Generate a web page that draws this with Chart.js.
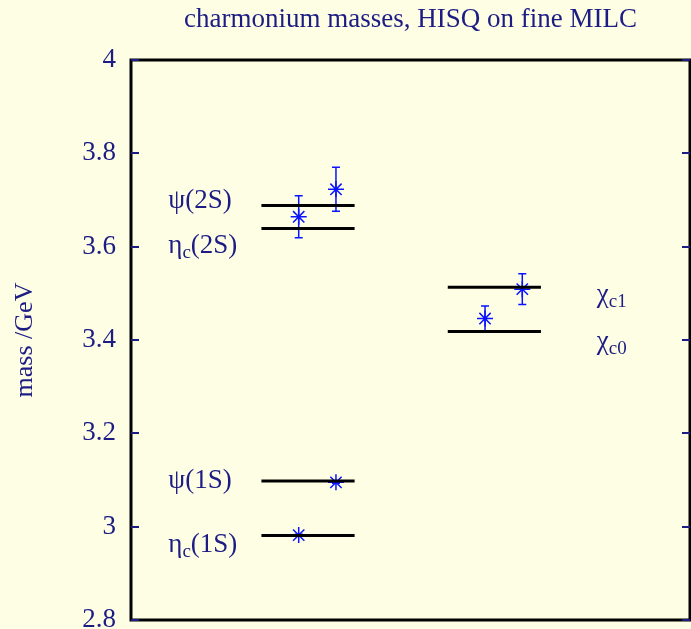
<!DOCTYPE html>
<html>
<head>
<meta charset="utf-8">
<script src="https://cdn.jsdelivr.net/npm/chart.js@4"></script>
<style>
  html, body { margin: 0; padding: 0; background: #fefee4; overflow: hidden; }
  canvas { display: block; }
</style>
</head>
<body>
<canvas id="grafico" width="691" height="629"></canvas>
<script>
// eje y
const yTicks = [2.8, 3.0, 3.2, 3.4, 3.6, 3.8, 4.0];
const yTickLabels = ["2.8", "3", "3.2", "3.4", "3.6", "3.8", "4"];

// niveles experimentales (lineas negras)
const levelMass = [3.688, 3.639, 3.098, 2.981, 3.513, 3.418];
const levelStart = [1.4, 1.4, 1.4, 1.4, 3.4, 3.4];
const levelEnd = [2.4, 2.4, 2.4, 2.4, 4.4, 4.4];

// resultados lattice (estrellas azules con error)
const pointX = [1.8, 2.2, 2.2, 1.8, 4.2, 3.8];
const pointMass = [3.664, 3.723, 3.095, 2.982, 3.509, 3.446];
const pointErr = [0.045, 0.047, 0.002, 0.002, 0.033, 0.027];

// etiquetas de los estados
const labelBase = ["ψ", "η", "ψ", "η", "χ", "χ"];
const labelSub = ["", "c", "", "c", "c1", "c0"];
const labelRest = ["(2S)", "(2S)", "(1S)", "(1S)", "", ""];
const labelX = [0.4, 0.4, 0.4, 0.4, 5.0, 5.0];
const labelY = [3.683, 3.586, 3.083, 2.946, 3.481, 3.381];

const navy = "#1c1c84";
const serif = "'Liberation Serif', 'DejaVu Serif', serif";

const datasets = levelMass.map((m, i) => ({
  type: "line",
  data: [{ x: levelStart[i], y: m }, { x: levelEnd[i], y: m }],
  borderColor: "#000",
  borderWidth: 3,
  pointRadius: 0
}));

datasets.push({
  type: "scatter",
  data: pointX.map((x, i) => ({ x: x, y: pointMass[i] })),
  pointStyle: "star",
  pointRadius: 8,
  borderColor: "#0a14ff",
  borderWidth: 1.5,
  backgroundColor: "#0a14ff"
});

const decor = {
  id: "decor",
  beforeDraw(chart) {
    const c = chart.ctx;
    c.save();
    c.fillStyle = "#fefee4";
    c.fillRect(0, 0, chart.width, chart.height);
    c.restore();
  },
  beforeDatasetsDraw(chart) {
    const { ctx, scales: { x, y } } = chart;
    ctx.save();
    ctx.strokeStyle = "#0a14ff";
    ctx.lineWidth = 1.5;
    pointX.forEach((px, i) => {
      const cx = x.getPixelForValue(px);
      const top = y.getPixelForValue(pointMass[i] + pointErr[i]);
      const bot = y.getPixelForValue(pointMass[i] - pointErr[i]);
      ctx.beginPath();
      ctx.moveTo(cx, top); ctx.lineTo(cx, bot);
      ctx.moveTo(cx - 4, top); ctx.lineTo(cx + 4, top);
      ctx.moveTo(cx - 4, bot); ctx.lineTo(cx + 4, bot);
      ctx.stroke();
    });
    ctx.restore();
  },
  afterDraw(chart) {
    const { ctx, chartArea: a, scales: { x, y } } = chart;
    ctx.save();
    // marco
    ctx.strokeStyle = "#000";
    ctx.lineWidth = 3;
    ctx.strokeRect(a.left, a.top, a.right - a.left, a.bottom - a.top);
    // ticks hacia dentro
    ctx.strokeStyle = navy;
    ctx.lineWidth = 2;
    yTicks.forEach(v => {
      const py = Math.round(y.getPixelForValue(v));
      ctx.beginPath();
      ctx.moveTo(a.left, py); ctx.lineTo(a.left + 8, py);
      ctx.moveTo(a.right - 8, py); ctx.lineTo(a.right, py);
      ctx.stroke();
    });
    // etiquetas
    ctx.fillStyle = navy;
    ctx.textBaseline = "alphabetic";
    ctx.textAlign = "left";
    labelBase.forEach((b, i) => {
      let px = x.getPixelForValue(labelX[i]);
      const py = y.getPixelForValue(labelY[i]);
      ctx.font = "27px " + serif;
      ctx.fillText(b, px, py);
      px += ctx.measureText(b).width;
      if (labelSub[i]) {
        ctx.font = "19px " + serif;
        ctx.fillText(labelSub[i], px, py + 5);
        px += ctx.measureText(labelSub[i]).width;
      }
      ctx.font = "27px " + serif;
      ctx.fillText(labelRest[i], px, py);
    });
    // titulo
    ctx.textAlign = "center";
    ctx.textBaseline = "middle";
    ctx.font = "27px " + serif;
    ctx.fillText("charmonium masses, HISQ on fine MILC", (a.left + a.right) / 2, 20);
    // titulo eje y
    ctx.font = "26px " + serif;
    ctx.translate(25, (a.top + a.bottom) / 2);
    ctx.rotate(-Math.PI / 2);
    ctx.fillText("mass /GeV", 0, 0);
    ctx.restore();
  }
};

new Chart(document.getElementById("grafico").getContext("2d"), {
  type: "scatter",
  data: { datasets: datasets },
  options: {
    responsive: false,
    animation: false,
    layout: { autoPadding: false, padding: { top: 60, right: 1, bottom: 9, left: 0 } },
    plugins: { legend: { display: false }, tooltip: { enabled: false } },
    scales: {
      x: { type: "linear", min: 0, max: 6, display: false },
      y: {
        min: 2.8,
        max: 4.0,
        afterBuildTicks: s => { s.ticks = yTicks.map(v => ({ value: v })); },
        afterFit: s => { s.width = 131; s.paddingTop = 0; s.paddingBottom = 0; },
        grid: { display: false, drawTicks: false },
        border: { display: false },
        ticks: {
          color: navy,
          padding: 15,
          font: { family: serif, size: 27 },
          callback: (v, i) => yTickLabels[i]
        }
      }
    }
  },
  plugins: [decor]
});
</script>
</body>
</html>
